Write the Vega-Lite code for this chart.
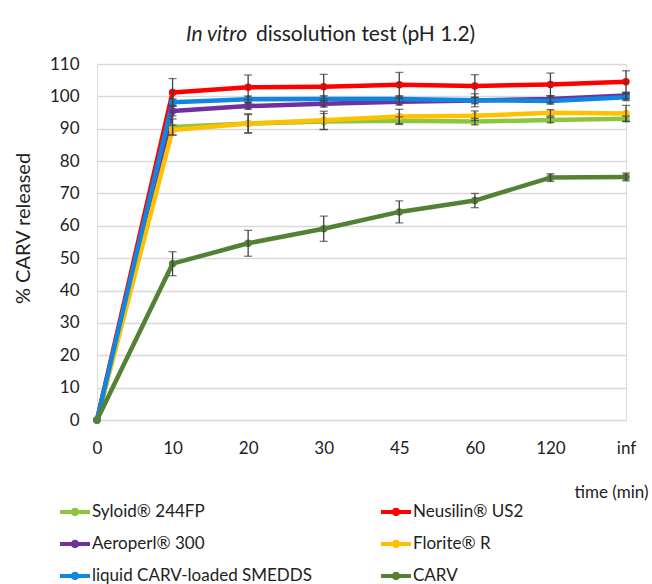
{
  "$schema": "https://vega.github.io/schema/vega-lite/v6.json",
  "width": 529,
  "height": 356,
  "autosize": {"type": "none"},
  "padding": {"left": 97, "top": 64, "right": 26, "bottom": 164},
  "background": "white",
  "title": {
    "text": "In vitro",
    "subtitle": "\u200b\u00a0\u00a0\u00a0\u00a0\u00a0\u00a0\u00a0\u00a0\u00a0\u00a0\u00a0\u00a0\u00a0dissolution test (pH 1.2)",
    "anchor": "start",
    "frame": "group",
    "dx": 89,
    "offset": 10,
    "font": "Lato",
    "fontSize": 21,
    "fontStyle": "italic",
    "fontWeight": "normal",
    "color": "#222222",
    "subtitleFont": "Lato",
    "subtitleFontSize": 21,
    "subtitleFontStyle": "normal",
    "subtitleColor": "#222222",
    "subtitlePadding": -21
  },
  "data": {
    "values": [
      {"series": "Syloid® 244FP", "time": "0", "mean": 0, "sd": 0},
      {"series": "Syloid® 244FP", "time": "10", "mean": 90.5, "sd": 2.5},
      {"series": "Syloid® 244FP", "time": "20", "mean": 91.6, "sd": 2.8},
      {"series": "Syloid® 244FP", "time": "30", "mean": 92.2, "sd": 2.5},
      {"series": "Syloid® 244FP", "time": "45", "mean": 92.5, "sd": 1.2},
      {"series": "Syloid® 244FP", "time": "60", "mean": 92.2, "sd": 1.0},
      {"series": "Syloid® 244FP", "time": "120", "mean": 92.7, "sd": 0.8},
      {"series": "Syloid® 244FP", "time": "inf", "mean": 93.1, "sd": 0.8},
      {"series": "Neusilin® US2", "time": "0", "mean": 0, "sd": 0},
      {"series": "Neusilin® US2", "time": "10", "mean": 101.2, "sd": 4.3},
      {"series": "Neusilin® US2", "time": "20", "mean": 102.8, "sd": 3.8},
      {"series": "Neusilin® US2", "time": "30", "mean": 103.0, "sd": 3.8},
      {"series": "Neusilin® US2", "time": "45", "mean": 103.6, "sd": 3.8},
      {"series": "Neusilin® US2", "time": "60", "mean": 103.2, "sd": 3.5},
      {"series": "Neusilin® US2", "time": "120", "mean": 103.7, "sd": 3.5},
      {"series": "Neusilin® US2", "time": "inf", "mean": 104.5, "sd": 3.4},
      {"series": "Aeroperl® 300", "time": "0", "mean": 0, "sd": 0},
      {"series": "Aeroperl® 300", "time": "10", "mean": 95.5, "sd": 1.5},
      {"series": "Aeroperl® 300", "time": "20", "mean": 97.0, "sd": 1.0},
      {"series": "Aeroperl® 300", "time": "30", "mean": 97.7, "sd": 1.0},
      {"series": "Aeroperl® 300", "time": "45", "mean": 98.3, "sd": 1.0},
      {"series": "Aeroperl® 300", "time": "60", "mean": 98.7, "sd": 1.0},
      {"series": "Aeroperl® 300", "time": "120", "mean": 99.2, "sd": 1.0},
      {"series": "Aeroperl® 300", "time": "inf", "mean": 100.3, "sd": 1.0},
      {"series": "Florite® R", "time": "0", "mean": 0, "sd": 0},
      {"series": "Florite® R", "time": "10", "mean": 89.6, "sd": 1.5},
      {"series": "Florite® R", "time": "20", "mean": 91.6, "sd": 3.0},
      {"series": "Florite® R", "time": "30", "mean": 92.6, "sd": 2.8},
      {"series": "Florite® R", "time": "45", "mean": 93.8, "sd": 2.2},
      {"series": "Florite® R", "time": "60", "mean": 94.0, "sd": 1.5},
      {"series": "Florite® R", "time": "120", "mean": 94.9, "sd": 1.0},
      {"series": "Florite® R", "time": "inf", "mean": 94.7, "sd": 2.5},
      {"series": "liquid CARV-loaded SMEDDS", "time": "0", "mean": 0, "sd": 0},
      {"series": "liquid CARV-loaded SMEDDS", "time": "10", "mean": 98.2, "sd": 1.0},
      {"series": "liquid CARV-loaded SMEDDS", "time": "20", "mean": 99.1, "sd": 1.0},
      {"series": "liquid CARV-loaded SMEDDS", "time": "30", "mean": 99.2, "sd": 1.0},
      {"series": "liquid CARV-loaded SMEDDS", "time": "45", "mean": 99.2, "sd": 1.0},
      {"series": "liquid CARV-loaded SMEDDS", "time": "60", "mean": 98.8, "sd": 2.0},
      {"series": "liquid CARV-loaded SMEDDS", "time": "120", "mean": 98.6, "sd": 1.0},
      {"series": "liquid CARV-loaded SMEDDS", "time": "inf", "mean": 99.7, "sd": 1.0},
      {"series": "CARV", "time": "0", "mean": 0, "sd": 0},
      {"series": "CARV", "time": "10", "mean": 48.3, "sd": 3.7},
      {"series": "CARV", "time": "20", "mean": 54.6, "sd": 4.0},
      {"series": "CARV", "time": "30", "mean": 59.1, "sd": 3.9},
      {"series": "CARV", "time": "45", "mean": 64.3, "sd": 3.4},
      {"series": "CARV", "time": "60", "mean": 67.8, "sd": 2.2},
      {"series": "CARV", "time": "120", "mean": 74.9, "sd": 1.2},
      {"series": "CARV", "time": "inf", "mean": 75.1, "sd": 1.2}
    ]
  },
  "encoding": {
    "x": {
      "field": "time",
      "type": "ordinal",
      "sort": ["0", "10", "20", "30", "45", "60", "120", "inf"],
      "scale": {"type": "point", "padding": 0},
      "axis": {
        "title": "time (min)",
        "titleX": 551,
        "titleY": 77,
        "titleAlign": "right",
        "titleBaseline": "alphabetic",
        "titleFont": "Lato",
        "titleFontSize": 17,
        "titleFontWeight": "normal",
        "titleColor": "#222222",
        "labelAngle": 0,
        "labelFont": "Lato",
        "labelFontSize": 17,
        "labelColor": "#222222",
        "labelPadding": 20,
        "domain": false,
        "ticks": false,
        "grid": false
      }
    },
    "y": {
      "field": "mean",
      "type": "quantitative",
      "scale": {"domain": [0, 110], "nice": false},
      "axis": {
        "title": "% CARV released",
        "values": [0, 10, 20, 30, 40, 50, 60, 70, 80, 90, 100, 110],
        "titleX": -74,
        "titleY": 164,
        "titleAlign": "center",
        "titleBaseline": "middle",
        "titleFont": "Lato",
        "titleFontSize": 20,
        "titleFontWeight": "normal",
        "titleColor": "#222222",
        "labelFont": "Lato",
        "labelFontSize": 17,
        "labelColor": "#222222",
        "labelPadding": 18,
        "domain": false,
        "ticks": false,
        "gridColor": "#D9D9D9",
        "gridWidth": 1.4
      }
    },
    "color": {
      "field": "series",
      "type": "nominal",
      "sort": ["Syloid® 244FP", "Neusilin® US2", "Aeroperl® 300", "Florite® R", "liquid CARV-loaded SMEDDS", "CARV"],
      "scale": {
        "domain": ["Syloid® 244FP", "Neusilin® US2", "Aeroperl® 300", "Florite® R", "liquid CARV-loaded SMEDDS", "CARV"],
        "range": ["#8CC63F", "#FF0000", "#7030A0", "#FFC000", "#0F87E0", "#548235"]
      },
      "legend": {
        "title": null,
        "orient": "none",
        "legendX": -37,
        "legendY": 433,
        "columns": 2,
        "direction": "horizontal",
        "symbolType": "M-1,-0.14H1V0.14H-1Z M-0.28,0A0.28,0.28,0,1,1,0.28,0A0.28,0.28,0,1,1,-0.28,0Z",
        "symbolSize": 900,
        "symbolStrokeWidth": 0,
        "labelFont": "Lato",
        "labelFontSize": 17,
        "labelColor": "#222222",
        "labelOffset": 2,
        "labelLimit": 320,
        "rowPadding": 9,
        "columnPadding": 69
      }
    }
  },
  "layer": [
    {
      "mark": {"type": "line", "strokeWidth": 4.5, "strokeJoin": "round"}
    },
    {
      "mark": {"type": "point", "filled": true, "size": 55, "opacity": 1}
    },
    {
      "transform": [{"filter": "datum.sd > 0"}],
      "mark": {"type": "errorbar", "color": "#404040", "thickness": 1.3, "ticks": {"size": 8, "thickness": 1.3, "color": "#404040"}},
      "encoding": {
        "y": {"field": "mean", "type": "quantitative"},
        "yError": {"field": "sd"},
        "color": {"value": "#404040"}
      }
    }
  ]
}
